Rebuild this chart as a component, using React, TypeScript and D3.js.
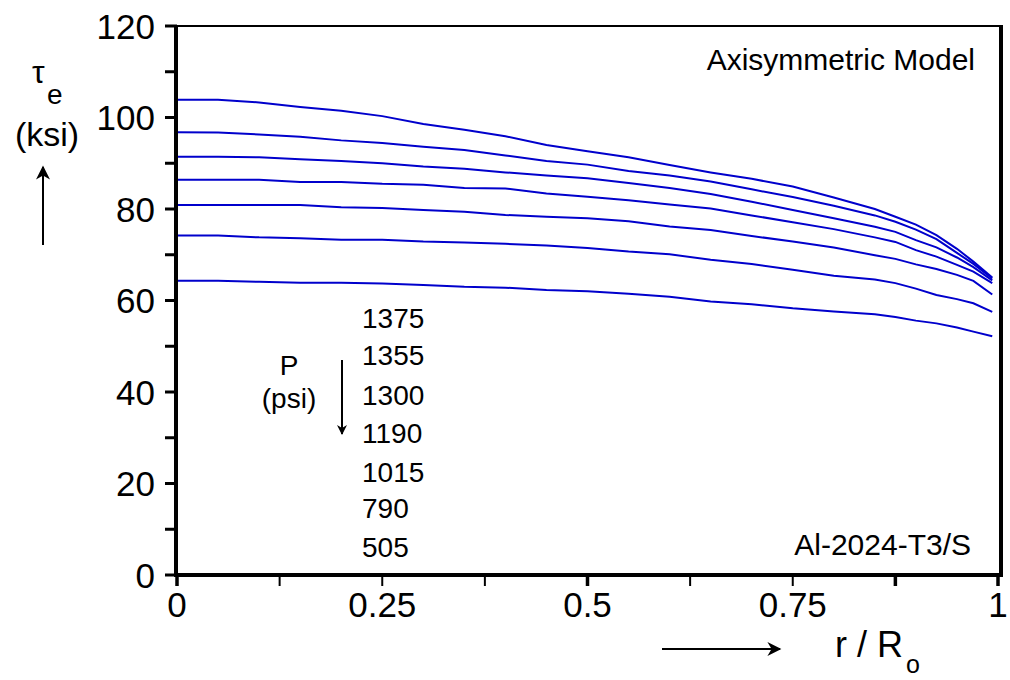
import React, { useEffect, useRef } from "react";
import * as d3 from "d3";

const rGrid = [0, 0.05, 0.1, 0.15, 0.2, 0.25, 0.3, 0.35, 0.4, 0.45, 0.5, 0.55, 0.6, 0.65, 0.7, 0.75, 0.8, 0.85, 0.875, 0.9, 0.925, 0.95, 0.97, 0.993];

const p1375 = [103.9, 103.9, 103.3, 102.3, 101.5, 100.3, 98.6, 97.3, 95.9, 94.0, 92.6, 91.3, 89.6, 88.0, 86.6, 84.9, 82.5, 80.0, 78.3, 76.6, 74.3, 71.3, 68.5, 65.0];
const p1355 = [96.8, 96.7, 96.3, 95.8, 95.0, 94.4, 93.6, 92.9, 91.7, 90.5, 89.7, 88.3, 87.3, 86.0, 84.3, 82.6, 80.7, 78.6, 77.2, 75.5, 73.4, 70.4, 68.0, 64.8];
const p1300 = [91.4, 91.4, 91.3, 90.9, 90.5, 90.0, 89.3, 88.8, 88.0, 87.3, 86.7, 85.7, 84.6, 83.3, 81.6, 79.8, 78.0, 76.1, 75.0, 73.2, 71.6, 69.4, 67.3, 64.4];
const p1190 = [86.4, 86.4, 86.4, 85.9, 85.9, 85.5, 85.3, 84.6, 84.5, 83.4, 82.7, 81.9, 81.0, 80.1, 78.6, 77.1, 75.6, 73.8, 72.8, 71.0, 69.6, 67.8, 66.3, 63.8];
const p1015 = [80.9, 80.9, 80.9, 80.9, 80.4, 80.2, 79.8, 79.4, 78.7, 78.3, 78.0, 77.3, 76.2, 75.4, 74.1, 72.9, 71.6, 69.9, 69.1, 67.9, 66.9, 65.6, 64.3, 61.3];
const p790 = [74.2, 74.2, 73.8, 73.6, 73.3, 73.3, 72.9, 72.7, 72.4, 72.0, 71.5, 70.7, 70.1, 68.9, 68.0, 66.7, 65.4, 64.6, 63.8, 62.6, 61.2, 60.3, 59.4, 57.5];
const p505 = [64.3, 64.3, 64.1, 63.9, 63.9, 63.7, 63.4, 63.0, 62.8, 62.3, 62.0, 61.5, 60.8, 59.8, 59.2, 58.3, 57.6, 57.0, 56.4, 55.6, 55.0, 54.1, 53.2, 52.2];

const seriesValues = [p1375, p1355, p1300, p1190, p1015, p790, p505];
const pressureLabels = ["1375", "1355", "1300", "1190", "1015", "790", "505"];

const yTickValues = [0, 10, 20, 30, 40, 50, 60, 70, 80, 90, 100, 110, 120];
const yLabelValues = [0, 20, 40, 60, 80, 100, 120];
const xTickValues = [0, 0.125, 0.25, 0.375, 0.5, 0.625, 0.75, 0.875, 1];
const xLabelValues = [0, 0.25, 0.5, 0.75, 1];
const xLabelText = ["0", "0.25", "0.5", "0.75", "1"];

const FONT = "'Liberation Sans', Arial, sans-serif";
const BLUE = "#0000cc";

export default function App() {
  const ref = useRef<SVGSVGElement>(null);

  useEffect(() => {
    const svg = d3.select(ref.current);
    svg.selectAll("*").remove();

    const x = d3.scaleLinear().domain([0, 1]).range([177, 998]);
    const y = d3.scaleLinear().domain([0, 120]).range([575, 26]);

    const defs = svg.append("defs");
    defs
      .append("marker")
      .attr("id", "ah")
      .attr("viewBox", "0 0 10 10")
      .attr("refX", 9)
      .attr("refY", 5)
      .attr("markerWidth", 10)
      .attr("markerHeight", 10)
      .attr("markerUnits", "userSpaceOnUse")
      .attr("orient", "auto")
      .append("path")
      .attr("d", "M0,0 L10,5 L0,10 L3,5 Z")
      .attr("fill", "#000");
    defs
      .append("marker")
      .attr("id", "ahBig")
      .attr("viewBox", "0 0 10 10")
      .attr("refX", 9)
      .attr("refY", 5)
      .attr("markerWidth", 22)
      .attr("markerHeight", 14)
      .attr("markerUnits", "userSpaceOnUse")
      .attr("orient", "auto")
      .append("path")
      .attr("d", "M0,0 L10,5 L0,10 L3,5 Z")
      .attr("fill", "#000");

    // curves
    const line = d3
      .line<number>()
      .x((_, i) => x(rGrid[i]))
      .y((d) => y(d));
    svg
      .append("g")
      .selectAll("path")
      .data(seriesValues)
      .join("path")
      .attr("d", (d) => line(d))
      .attr("fill", "none")
      .attr("stroke", BLUE)
      .attr("stroke-width", 2);

    // frame
    const g = svg.append("g").attr("stroke", "#000");
    g.append("line").attr("x1", x(0)).attr("x2", x(1) + 3).attr("y1", y(120)).attr("y2", y(120)).attr("stroke-width", 2);
    g.append("line").attr("x1", x(0) - 1).attr("x2", x(0) - 1).attr("y1", y(120) - 1).attr("y2", y(0) + 2).attr("stroke-width", 4);
    g.append("line").attr("x1", x(1) + 3).attr("x2", x(1) + 3).attr("y1", y(120) - 1).attr("y2", y(0) + 2).attr("stroke-width", 4);
    g.append("line").attr("x1", x(0) - 3).attr("x2", x(1) + 5).attr("y1", y(0)).attr("y2", y(0)).attr("stroke-width", 4);

    // y ticks
    g.selectAll("line.yt")
      .data(yTickValues)
      .join("line")
      .attr("class", "yt")
      .attr("x1", x(0) - 12)
      .attr("x2", x(0))
      .attr("y1", (d) => y(d))
      .attr("y2", (d) => y(d))
      .attr("stroke-width", 3);

    // x ticks
    g.selectAll("line.xt")
      .data(xTickValues)
      .join("line")
      .attr("class", "xt")
      .attr("x1", (d) => x(d))
      .attr("x2", (d) => x(d))
      .attr("y1", y(0))
      .attr("y2", y(0) + 11)
      .attr("stroke-width", (d) => (d === 0 || d === 0.5 || d === 0.875 || d === 1 ? 3.5 : 2));

    // tick labels
    svg
      .append("g")
      .selectAll("text")
      .data(yLabelValues)
      .join("text")
      .attr("x", 155)
      .attr("y", (d) => y(d) + 12.5)
      .attr("text-anchor", "end")
      .attr("font-family", FONT)
      .attr("font-size", 35)
      .text((d) => String(d));

    svg
      .append("g")
      .selectAll("text")
      .data(xLabelValues)
      .join("text")
      .attr("x", (d) => x(d))
      .attr("y", 617)
      .attr("text-anchor", "middle")
      .attr("font-family", FONT)
      .attr("font-size", 35)
      .text((_, i) => xLabelText[i]);

    // y axis title
    const yt = svg.append("text").attr("font-family", FONT).attr("font-size", 32).attr("x", 32).attr("y", 83);
    yt.append("tspan").text("τ");
    yt.append("tspan").attr("font-size", 28).attr("x", 47).attr("y", 104).text("e");
    svg.append("text").attr("x", 47).attr("y", 146).attr("text-anchor", "middle").attr("font-family", FONT).attr("font-size", 34).text("(ksi)");
    svg.append("line").attr("x1", 43).attr("x2", 43).attr("y1", 245).attr("y2", 167).attr("stroke", "#000").attr("stroke-width", 2).attr("marker-end", "url(#ahBig)");

    // x axis title
    const xt = svg.append("text").attr("font-family", FONT).attr("font-size", 36).attr("x", 835).attr("y", 657);
    xt.append("tspan").text("r / R");
    xt.append("tspan").attr("font-size", 25).attr("x", 906).attr("y", 673).text("o");
    svg.append("line").attr("x1", 662).attr("x2", 780).attr("y1", 649).attr("y2", 649).attr("stroke", "#000").attr("stroke-width", 2).attr("marker-end", "url(#ahBig)");

    // annotations
    svg.append("text").attr("x", 975).attr("y", 70).attr("text-anchor", "end").attr("font-family", FONT).attr("font-size", 30).text("Axisymmetric Model");
    svg.append("text").attr("x", 971).attr("y", 555).attr("text-anchor", "end").attr("font-family", FONT).attr("font-size", 30).text("Al-2024-T3/S");

    // pressure legend
    const baselines = [328, 365, 405, 443, 482, 518, 557];
    svg
      .append("g")
      .selectAll("text")
      .data(pressureLabels)
      .join("text")
      .attr("x", 362)
      .attr("y", (_, i) => baselines[i])
      .attr("font-family", FONT)
      .attr("font-size", 28)
      .text((d) => d);
    svg.append("text").attr("x", 289).attr("y", 375).attr("text-anchor", "middle").attr("font-family", FONT).attr("font-size", 28).text("P");
    svg.append("text").attr("x", 289).attr("y", 408).attr("text-anchor", "middle").attr("font-family", FONT).attr("font-size", 28).text("(psi)");
    svg.append("line").attr("x1", 342).attr("x2", 342).attr("y1", 360).attr("y2", 434).attr("stroke", "#000").attr("stroke-width", 2).attr("marker-end", "url(#ah)");
  }, []);

  return (
    <svg
      ref={ref}
      width={1010}
      height={680}
      style={{ position: "absolute", left: 0, top: 0, background: "#fff" }}
    />
  );
}
